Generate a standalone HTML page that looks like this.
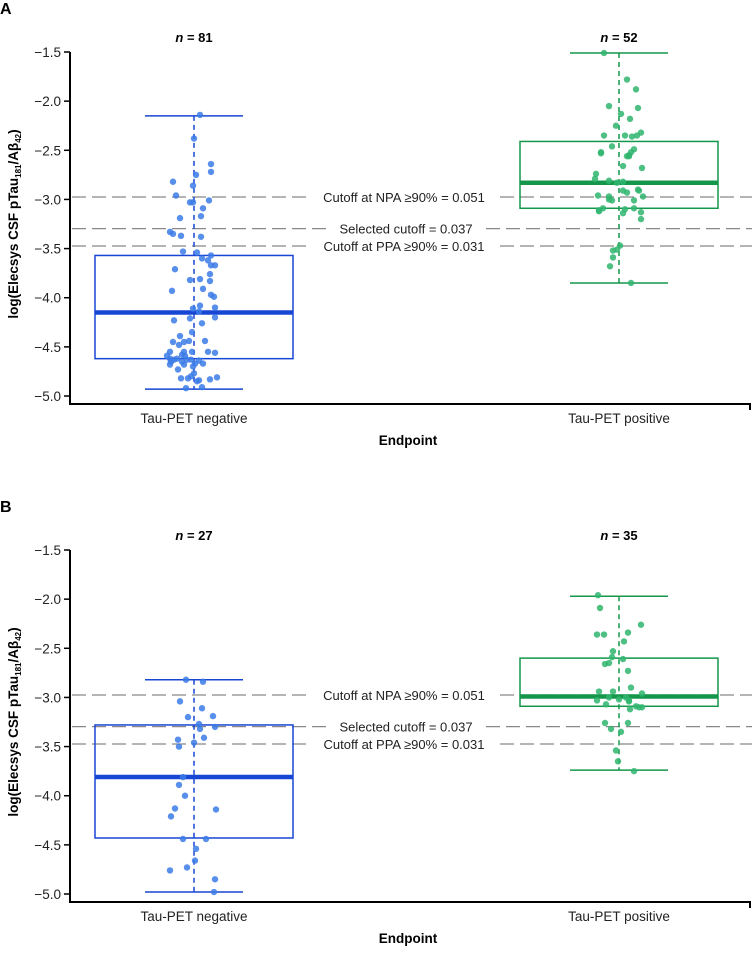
<!DOCTYPE html>
<html><head><meta charset="utf-8"><style>
html,body{margin:0;padding:0;background:#fff;}
svg text{font-family:"Liberation Sans",Arial,sans-serif;}
</style></head><body>
<svg id="fig" width="752" height="950" viewBox="0 0 752 950" xmlns="http://www.w3.org/2000/svg"></svg>
<script>
const categories = ["Tau-PET negative","Tau-PET positive"];
const yTicks = [-1.5,-2.0,-2.5,-3.0,-3.5,-4.0,-4.5,-5.0];
const cutoffValues = [-2.975,-3.297,-3.474];
const cutoffLabels = ["Cutoff at NPA \u226590% = 0.051","Selected cutoff = 0.037","Cutoff at PPA \u226590% = 0.031"];
const nA = [81,52];
const nB = [27,35];
// box stats: [upper whisker, Q3, median, Q1, lower whisker]
const statsANeg = [-2.15,-3.57,-4.15,-4.62,-4.93];
const statsAPos = [-1.51,-2.41,-2.83,-3.09,-3.85];
const statsBNeg = [-2.82,-3.28,-3.81,-4.43,-4.98];
const statsBPos = [-1.97,-2.60,-2.99,-3.09,-3.74];
const ptsANeg = [-2.14,-2.38,-2.64,-2.72,-2.75,-2.82,-2.86,-2.96,-3.03,-3.03,-3.01,-3.09,-3.19,-3.17,-3.33,-3.35,-3.37,-3.38,-3.53,-3.54,-3.60,-3.57,-3.62,-3.67,-3.67,-3.71,-3.76,-3.82,-3.81,-3.83,-3.91,-3.93,-3.97,-3.99,-4.11,-4.08,-4.10,-4.14,-4.20,-4.21,-4.23,-4.26,-4.35,-4.39,-4.45,-4.45,-4.44,-4.44,-4.48,-4.55,-4.55,-4.55,-4.56,-4.55,-4.58,-4.62,-4.62,-4.59,-4.63,-4.63,-4.64,-4.68,-4.65,-4.67,-4.70,-4.73,-4.77,-4.82,-4.82,-4.80,-4.84,-4.83,-4.81,-4.92,-4.91,-4.65,-4.68,-4.63,-4.67,-4.59,-4.85];
const jitANeg = [6,0,17,17,2,-21,-1,-18,-4,-1,15,9,-14,7,-24,-21,-13,7,-11,3,8,17,14,17,21,-19,16,-4,6,16,9,-22,17,20,-1,6,21,5,21,-4,-20,8,-2,-14,-21,-10,-5,11,-15,-24,-2,14,21,-10,-12,-24,-17,-9,-20,-3,5,-24,-12,9,-1,-16,0,-13,-6,-3,5,16,23,-8,8,-23,-10,-7,1,-27,3];
const ptsAPos = [-1.51,-1.78,-1.88,-2.05,-2.07,-2.13,-2.18,-2.25,-2.35,-2.35,-2.36,-2.35,-2.32,-2.46,-2.52,-2.53,-2.49,-2.52,-2.56,-2.55,-2.66,-2.68,-2.74,-2.79,-2.81,-2.83,-2.91,-2.93,-2.90,-2.91,-2.96,-2.97,-3.01,-2.97,-3.01,-3.11,-3.09,-3.12,-3.10,-3.09,-3.14,-3.13,-3.20,-3.47,-3.51,-3.52,-3.59,-3.68,-3.85,-3.00,-2.82,-2.56];
const jitAPos = [-15,8,17,-10,19,2,11,-3,-15,6,13,18,22,-7,-18,-18,15,12,8,10,4,23,-23,-24,-10,-2,4,8,19,20,-21,-10,-7,24,15,-20,-16,-20,6,15,4,22,22,1,-2,-6,-6,-9,12,-10,4,10];
const ptsBNeg = [-2.82,-2.84,-3.04,-3.11,-3.20,-3.19,-3.27,-3.32,-3.30,-3.43,-3.41,-3.50,-3.46,-3.81,-3.89,-4.00,-4.13,-4.14,-4.21,-4.44,-4.44,-4.54,-4.66,-4.76,-4.73,-4.85,-4.98];
const jitBNeg = [-8,9,-14,8,-6,19,5,6,21,-16,10,-15,0,-11,-15,-9,-19,22,-23,-11,12,2,1,-24,-7,21,20];
const ptsBPos = [-1.96,-2.09,-2.26,-2.36,-2.36,-2.34,-2.43,-2.53,-2.59,-2.61,-2.66,-2.65,-2.73,-2.90,-2.94,-2.94,-2.96,-3.03,-3.02,-3.00,-3.03,-3.04,-3.07,-3.12,-3.09,-3.10,-3.10,-3.26,-3.26,-3.32,-3.35,-3.54,-3.65,-3.75,-3.00];
const jitBPos = [-21,-19,22,-22,-15,9,5,-6,-7,4,-14,-10,9,12,-20,-6,23,-22,0,7,10,10,-13,11,17,23,20,-14,9,-8,2,-3,-1,15,-10];

const NS="http://www.w3.org/2000/svg";
const svg=document.getElementById('fig');
function mk(tag,attrs,parent,txt){const e=document.createElementNS(NS,tag);for(const k in attrs)e.setAttribute(k,attrs[k]);if(txt!==undefined)e.textContent=txt;(parent||svg).appendChild(e);return e;}

const X0=70, X1=750, PX=98.29;
const xCenters=[194,619];
function panel(letter,top,ns,stats,pts,jits){
  const g=mk('g',{});
  
  
  const yOf=v=>top+(-1.5-v)*PX;
  const t=mk('text',{x:0,y:top-38,'font-size':16,'font-weight':'bold'},g,letter);
  
  
  // axes
  const yb=yOf(-5.0)+8;
  const ax=mk('path',{d:`M${X0},${yOf(-1.5)}V${yb}H${X1}V${yb+6}`,stroke:'#000','stroke-width':2,fill:'none'},g);
  
  
  yTicks.forEach(v=>{
    const y=yOf(v);
    const tk=mk('line',{x1:X0-6,x2:X0,y1:y,y2:y,stroke:'#000','stroke-width':1.5},g);
    
    
    const tl=mk('text',{x:X0-9,y:y+5,'font-size':13.5,'text-anchor':'end',fill:'#222'},g,'\u2212'+Math.abs(v).toFixed(1));
    
    
  });
  const cy=yOf(-3.25);
  const yt=mk('text',{transform:`translate(18,${cy}) rotate(-90)`,'font-size':13.5,'font-weight':'bold','text-anchor':'middle'},g);
  
  
  yt.innerHTML='log(Elecsys CSF pTau<tspan font-size="8" dy="3">181</tspan><tspan dy="-3">/A\u03b2</tspan><tspan font-size="8" dy="3">42</tspan><tspan dy="-3">)</tspan>';
  categories.forEach((c,i)=>{
    const xl=mk('text',{x:xCenters[i],y:yb+19,'font-size':13.5,'text-anchor':'middle',fill:'#222'},g,c);
    
    
    const nl=mk('text',{x:xCenters[i],y:top-10,'font-size':13,'font-weight':'bold','text-anchor':'middle'},g);
    
    
    nl.innerHTML='<tspan font-style="italic">n</tspan> = '+ns[i];
  });
  const xt=mk('text',{x:408,y:yb+41,'font-size':13.5,'font-weight':'bold','text-anchor':'middle'},g,'Endpoint');
  
  
  // cutoff lines
  const leftEnds=[308,326,308], rightStarts=[500,486,500];
  cutoffValues.forEach((v,i)=>{
    const y=yOf(v);
    const l1=mk('line',{x1:X0+2,x2:leftEnds[i],y1:y,y2:y,stroke:'#888','stroke-width':1.3,'stroke-dasharray':'14,6'},g);
    
    
    const l2=mk('line',{x1:rightStarts[i],x2:752,y1:y,y2:y,stroke:'#888','stroke-width':1.3,'stroke-dasharray':'14,6'},g);
    
    
    const cl=mk('text',{x:(leftEnds[i]+rightStarts[i])/2,y:y+5,'font-size':13,'text-anchor':'middle',fill:'#222'},g,cutoffLabels[i]);
    
    
  });
  const cols=[['#1846d4','#3b7be6'],['#14974a','#2fb56e']];
  stats.forEach((s,i)=>{
    const cx=xCenters[i], c=cols[i][0];
    const bg=mk('g',{},g);
    
    
    mk('line',{x1:cx,x2:cx,y1:yOf(s[0]),y2:yOf(s[4]),stroke:c,'stroke-width':1.5,'stroke-dasharray':'5,4'},bg);
    mk('line',{x1:cx-49,x2:cx+49,y1:yOf(s[0]),y2:yOf(s[0]),stroke:c,'stroke-width':1.5},bg);
    mk('line',{x1:cx-49,x2:cx+49,y1:yOf(s[4]),y2:yOf(s[4]),stroke:c,'stroke-width':1.5},bg);
    mk('rect',{x:cx-99,y:yOf(s[1]),width:198,height:yOf(s[3])-yOf(s[1]),fill:'none',stroke:c,'stroke-width':1.5},bg);
    mk('line',{x1:cx-99,x2:cx+99,y1:yOf(s[2]),y2:yOf(s[2]),stroke:c,'stroke-width':4.5},bg);
    pts[i].forEach((v,j)=>{
      const p=mk('circle',{cx:cx+jits[i][j],cy:yOf(v),r:3.2,fill:cols[i][1],'fill-opacity':0.85},bg);
      
      
    });
  });
}
panel('A',52,nA,[statsANeg,statsAPos],[ptsANeg,ptsAPos],[jitANeg,jitAPos]);
panel('B',550,nB,[statsBNeg,statsBPos],[ptsBNeg,ptsBPos],[jitBNeg,jitBPos]);
</script>
</body></html>
